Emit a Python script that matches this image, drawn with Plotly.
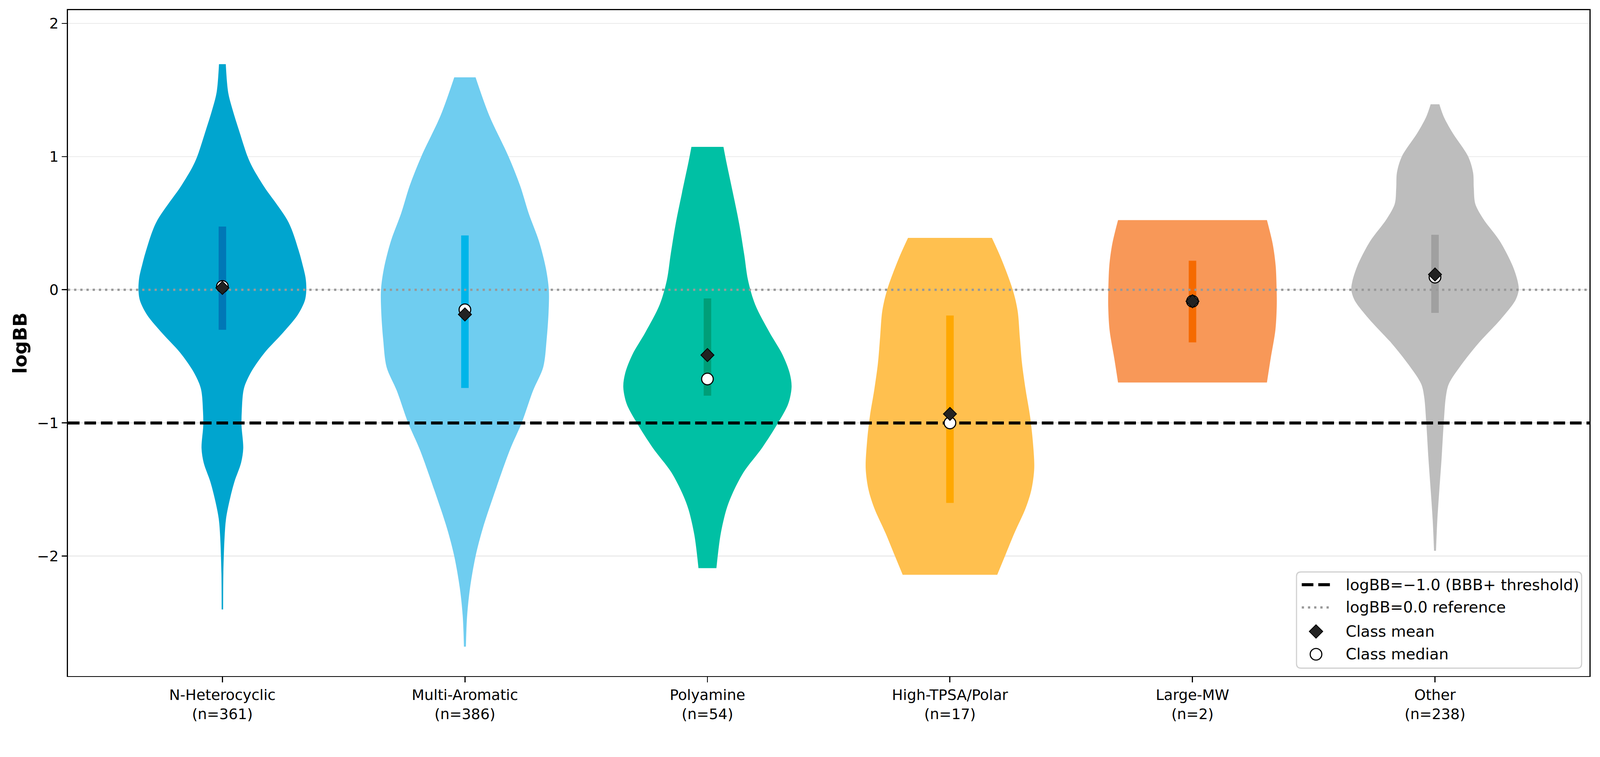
import plotly.graph_objects as go

# ---------------- data ----------------
CATEGORIES = ["N-Heterocyclic", "Multi-Aromatic", "Polyamine", "High-TPSA/Polar", "Large-MW", "Other"]
COUNTS = [361, 386, 54, 17, 2, 238]
MEANS = [0.014, -0.185, -0.49, -0.932, -0.086, 0.115]
MEDIANS = [0.025, -0.15, -0.67, -1.0, -0.086, 0.095]
Q1 = [-0.30, -0.737, -0.795, -1.60, -0.395, -0.173]
Q3 = [0.475, 0.408, -0.065, -0.193, 0.218, 0.413]

# violin density profiles: logBB level and half-width (x units)
NHET_Y = [1.694, 1.48, 1.34, 1.2, 1.0, 0.92, 0.78, 0.506, 0.28, 0.2, 0.09, 0.0, -0.08, -0.19, -0.33, -0.47,
          -0.61, -0.74, -0.91, -1.02, -1.19, -1.30, -1.44, -1.58, -1.72, -1.86, -2.13, -2.40]
NHET_W = [0.014, 0.024, 0.044, 0.068, 0.104, 0.124, 0.170, 0.273, 0.317, 0.329, 0.343, 0.346, 0.340, 0.310,
          0.246, 0.175, 0.121, 0.089, 0.080, 0.079, 0.086, 0.077, 0.050, 0.030, 0.015, 0.009, 0.004, 0.003]
MULTI_Y = [1.595, 1.31, 1.0, 0.78, 0.574, 0.367, 0.16, 0.0, -0.166, -0.373, -0.58, -0.757, -1.0, -1.2, -1.5,
           -1.79, -2.0, -2.24, -2.45, -2.68]
MULTI_W = [0.044, 0.10, 0.18, 0.228, 0.263, 0.305, 0.334, 0.346, 0.345, 0.337, 0.323, 0.281, 0.234, 0.186,
           0.127, 0.074, 0.044, 0.021, 0.009, 0.004]
POLY_Y = [1.073, 0.96, 0.728, 0.495, 0.261, 0.075, -0.112, -0.32, -0.485, -0.625, -0.73, -0.857, -1.0, -1.185,
          -1.37, -1.535, -1.65, -1.84, -2.09]
POLY_W = [0.066, 0.078, 0.105, 0.131, 0.152, 0.167, 0.197, 0.256, 0.309, 0.339, 0.347, 0.333, 0.291, 0.226,
          0.149, 0.102, 0.078, 0.054, 0.037]
TPSA_Y = [0.39, 0.236, 0.0, -0.158, -0.355, -0.552, -0.75, -0.947, -1.144, -1.34, -1.5, -1.64, -1.83, -1.99, -2.14]
TPSA_W = [0.173, 0.211, 0.259, 0.279, 0.288, 0.297, 0.312, 0.33, 0.342, 0.3475, 0.336, 0.312, 0.265, 0.229, 0.195]
LARGE_Y = [0.523, 0.342, 0.18, 0.0, -0.12, -0.30, -0.52, -0.696]
LARGE_W = [0.307, 0.331, 0.343, 0.347, 0.3475, 0.342, 0.322, 0.307]
OTHER_Y = [1.393, 1.30, 1.18, 1.0, 0.88, 0.763, 0.646, 0.53, 0.366, 0.18, 0.063, 0.0, -0.077, -0.217, -0.404,
           -0.567, -0.707, -0.80, -1.0, -1.27, -1.5, -1.73, -1.96]
OTHER_W = [0.018, 0.036, 0.072, 0.137, 0.157, 0.16, 0.166, 0.20, 0.267, 0.32, 0.341, 0.345, 0.332, 0.273, 0.178,
           0.107, 0.057, 0.045, 0.036, 0.027, 0.018, 0.0095, 0.004]

PROFILES_Y = [NHET_Y, MULTI_Y, POLY_Y, TPSA_Y, LARGE_Y, OTHER_Y]
PROFILES_W = [NHET_W, MULTI_W, POLY_W, TPSA_W, LARGE_W, OTHER_W]

THRESHOLD = -1.0
REFERENCE = 0.0
Y_TICKS = [-2, -1, 0, 1, 2]

# ---------------- styling ----------------
BODY_COLORS = ["#00A5CF", "#6FCDF0", "#00C0A4", "#FFC04F", "#F89858", "#BDBDBD"]
BAR_COLORS = ["#0077B6", "#00B5E9", "#009E78", "#FFA800", "#F56A00", "#A0A0A0"]
FONT = "DejaVu Sans"
XLIM = [-0.637, 5.637]
YLIM = [-2.9, 2.1]

W, H = 4265, 1938
ML, MR, MT, MB = 181, 28, 27, 132
PW, PH = W - ML - MR, H - MT - MB

positions = list(range(len(CATEGORIES)))
fig = go.Figure()

# violin bodies: left edge, then right edge filled back to the left edge
for i, (ys, ws) in enumerate(zip(PROFILES_Y, PROFILES_W)):
    fig.add_trace(go.Scatter(x=[positions[i] - w for w in ws], y=ys, mode="lines",
                             line=dict(width=0, color=BODY_COLORS[i], shape="spline", smoothing=0.9),
                             hoverinfo="skip", showlegend=False))
    fig.add_trace(go.Scatter(x=[positions[i] + w for w in ws], y=ys, mode="lines", fill="tonextx",
                             fillcolor=BODY_COLORS[i],
                             line=dict(width=0, color=BODY_COLORS[i], shape="spline", smoothing=0.9),
                             hoverinfo="skip", showlegend=False))

# IQR bars
for i in positions:
    fig.add_trace(go.Scatter(x=[positions[i], positions[i]], y=[Q1[i], Q3[i]], mode="lines",
                             line=dict(width=20, color=BAR_COLORS[i]), hoverinfo="skip", showlegend=False))

# reference lines
fig.add_trace(go.Scatter(x=XLIM, y=[REFERENCE, REFERENCE], mode="lines",
                         line=dict(color="#999999", width=6, dash="6px,10.5px"), showlegend=False, hoverinfo="skip"))
fig.add_trace(go.Scatter(x=XLIM, y=[THRESHOLD, THRESHOLD], mode="lines",
                         line=dict(color="black", width=8, dash="31px,13px"), showlegend=False, hoverinfo="skip"))

# medians then means
fig.add_trace(go.Scatter(x=positions, y=MEDIANS, mode="markers",
                         marker=dict(symbol="circle", size=31, color="white", line=dict(color="black", width=3)),
                         showlegend=False))
fig.add_trace(go.Scatter(x=positions, y=MEANS, mode="markers",
                         marker=dict(symbol="diamond", size=27, color="#222222", line=dict(color="black", width=2)),
                         showlegend=False))

ticktext = [f"{c}<br>(n={n})" for c, n in zip(CATEGORIES, COUNTS)]

fig.update_layout(
    width=W, height=H,
    margin=dict(l=ML, r=MR, t=MT, b=MB),
    paper_bgcolor="white", plot_bgcolor="white",
    font=dict(family=FONT, size=39, color="black"),
    showlegend=False,
    xaxis=dict(range=XLIM, tickvals=positions, ticktext=ticktext, showgrid=False, zeroline=False,
               showline=True, mirror=True, linecolor="black", linewidth=3,
               ticks="outside", ticklen=14, tickwidth=3, tickcolor="black",
               tickfont=dict(family=FONT, size=39, color="black")),
    yaxis=dict(range=YLIM, tickvals=Y_TICKS, showgrid=True, gridcolor="#ebebeb", gridwidth=3, zeroline=False,
               showline=True, mirror=True, linecolor="black", linewidth=3,
               ticks="outside", ticklen=14, tickwidth=3, tickcolor="black",
               tickfont=dict(family=FONT, size=39, color="black")),
)

def px(xp):
    return (xp - ML) / PW

def py(yp):
    return (H - MB - yp) / PH

annotations = [dict(text="<b>logBB</b>", x=px(53), y=0.5, xref="paper", yref="paper", textangle=-90,
                    showarrow=False, xanchor="center", yanchor="middle", font=dict(family=FONT, size=50, color="black"))]

# manual legend
lx0, lx1, ly0, ly1 = 3456, 4216, 1528, 1785
r = 12
rx, ry = r / PW, r / PH
X0, X1, Y0, Y1 = px(lx0), px(lx1), py(ly1), py(ly0)
path = (f"M {X0+rx},{Y0} L {X1-rx},{Y0} Q {X1},{Y0} {X1},{Y0+ry} L {X1},{Y1-ry} Q {X1},{Y1} {X1-rx},{Y1} "
        f"L {X0+rx},{Y1} Q {X0},{Y1} {X0},{Y1-ry} L {X0},{Y0+ry} Q {X0},{Y0} {X0+rx},{Y0} Z")
shapes = [dict(type="path", path=path, xref="paper", yref="paper", fillcolor="rgba(255,255,255,0.85)",
               line=dict(color="#d0d0d0", width=3), layer="above")]

rows = [1562, 1623, 1687, 1748]
labels = ["logBB=\u22121.0 (BBB+ threshold)", "logBB=0.0 reference", "Class mean", "Class median"]
hx0, hx1, hxc, tx = 3470, 3546, 3508, 3585
shapes.append(dict(type="line", xref="paper", yref="paper", x0=px(hx0), x1=px(hx1), y0=py(rows[0]), y1=py(rows[0]),
                   line=dict(color="black", width=8, dash="31px,13px"), layer="above"))
shapes.append(dict(type="line", xref="paper", yref="paper", x0=px(hx0), x1=px(hx1), y0=py(rows[1]), y1=py(rows[1]),
                   line=dict(color="#999999", width=6, dash="6px,10.5px"), layer="above"))
d = 18
dx, dy = d / PW, d / PH
cx, cy = px(hxc), py(rows[2])
shapes.append(dict(type="path", xref="paper", yref="paper",
                   path=f"M {cx},{cy+dy} L {cx+dx},{cy} L {cx},{cy-dy} L {cx-dx},{cy} Z",
                   fillcolor="#222222", line=dict(color="black", width=2), layer="above"))
cr = 15.5
cy2 = py(rows[3])
shapes.append(dict(type="circle", xref="paper", yref="paper", x0=cx - cr / PW, x1=cx + cr / PW,
                   y0=cy2 - cr / PH, y1=cy2 + cr / PH, fillcolor="white", line=dict(color="black", width=3),
                   layer="above"))
for rowy, lab in zip(rows, labels):
    annotations.append(dict(text=lab, x=px(tx), y=py(rowy), xref="paper", yref="paper", showarrow=False,
                            xanchor="left", yanchor="middle", font=dict(family=FONT, size=41, color="black")))

fig.update_layout(annotations=annotations, shapes=shapes)

FIT_JS = f"""
document.documentElement.style.margin='0';
document.body.style.margin='0';
document.body.style.overflow='hidden';
var gd = document.querySelector('.plotly-graph-div');
var s = Math.min(window.innerWidth / {W}, window.innerHeight / {H});
if (s < 1) {{ gd.style.transformOrigin = '0 0'; gd.style.transform = 'scale(' + s + ')'; }}
"""
fig.write_html("out.html", config={"displayModeBar": False}, post_script=FIT_JS)
